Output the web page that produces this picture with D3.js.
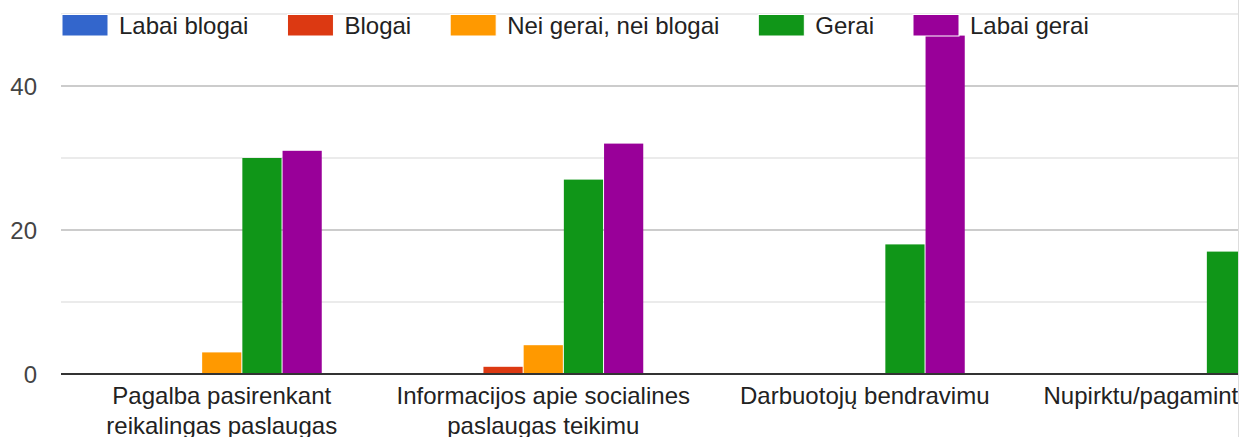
<!DOCTYPE html>
<html>
<head>
<meta charset="utf-8">
<script src="https://cdn.jsdelivr.net/npm/d3@7"></script>
<style>
  html, body { margin: 0; padding: 0; background: #ffffff; overflow: hidden; }
  svg { display: block; font-family: Arial, "Liberation Sans", sans-serif; }
</style>
</head>
<body>
<svg id="chart" width="1239" height="437"></svg>
<script>
// ---- data ----
const categories = [
  "Pagalba pasirenkant reikalingas paslaugas",
  "Informacijos apie socialines paslaugas teikimu",
  "Darbuotojų bendravimu",
  "Nupirktu/pagamintu maisto"
];
const seriesNames = ["Labai blogai", "Blogai", "Nei gerai, nei blogai", "Gerai", "Labai gerai"];
const seriesColors = ["#3366cc", "#dc3912", "#ff9900", "#109618", "#990099"];
const labaiBlogai = [0, 0, 0, 0];
const blogai = [0, 1, 0, 0];
const neiGeraiNeiBlogai = [3, 4, 0, 0];
const gerai = [30, 27, 18, 17];
const labaiGerai = [31, 32, 47, null];
const gridTicks = [0, 10, 20, 30, 40, 50];
const labelTicks = [0, 20, 40];

const seriesValues = [labaiBlogai, blogai, neiGeraiNeiBlogai, gerai, labaiGerai];

// ---- layout ----
const W = 1239, H = 437;
const plotLeft = 61, plotRight = 1347, plotTop = 14, plotBottom = 374;
const svg = d3.select("#chart");

const x0 = d3.scaleBand().domain(categories).range([plotLeft, plotRight]).padding(0);
const groupW = 200;
const x1 = d3.scaleBand().domain(seriesNames).range([0, groupW]).paddingInner(0.025).paddingOuter(0);
const y = d3.scaleLinear().domain([0, 50]).range([plotBottom, plotTop]);

// gridlines
svg.append("g").selectAll("line").data(gridTicks.filter(d => d > 0)).join("line")
  .attr("x1", plotLeft).attr("x2", 1238)
  .attr("y1", d => y(d)).attr("y2", d => y(d))
  .attr("stroke", d => labelTicks.includes(d) ? "#cccccc" : "#ebebeb")
  .attr("stroke-width", 2);

// bars
const barData = [];
categories.forEach((c, ci) => {
  seriesNames.forEach((s, si) => {
    const v = seriesValues[si][ci];
    if (v != null && v > 0) barData.push({ c, s, v, color: seriesColors[si] });
  });
});
svg.append("g").selectAll("rect").data(barData).join("rect")
  .attr("x", d => x0(d.c) + x0.bandwidth() / 2 - groupW / 2 + x1(d.s))
  .attr("width", x1.bandwidth())
  .attr("y", d => y(d.v))
  .attr("height", d => y(0) - y(d.v))
  .attr("fill", d => d.color);

// baseline
svg.append("line")
  .attr("x1", plotLeft).attr("x2", 1238)
  .attr("y1", y(0)).attr("y2", y(0))
  .attr("stroke", "#333333").attr("stroke-width", 2);

// y axis labels
svg.append("g").selectAll("text").data(labelTicks).join("text")
  .attr("x", 37).attr("y", d => y(d)).attr("dy", "0.36em")
  .attr("text-anchor", "end")
  .attr("font-size", 24).attr("fill", "#444444")
  .text(d => d);

// category labels (word-wrapped to the band width)
const labelG = svg.append("g");
categories.forEach(c => {
  const cx = x0(c) + x0.bandwidth() / 2;
  const t = labelG.append("text")
    .attr("x", cx).attr("y", 404)
    .attr("text-anchor", "middle").attr("font-size", 24).attr("fill", "#222222");
  const words = c.split(" ");
  let line = [], lineNo = 0;
  let ts = t.append("tspan").attr("x", cx).attr("y", 404);
  words.forEach(w => {
    line.push(w);
    ts.text(line.join(" "));
    if (ts.node().getComputedTextLength() > x0.bandwidth() - 10 && line.length > 1) {
      line.pop();
      ts.text(line.join(" "));
      line = [w];
      lineNo++;
      ts = t.append("tspan").attr("x", cx).attr("y", 404 + lineNo * 30).text(w);
    }
  });
});

// legend
const legend = svg.append("g");
let lx = 62;
seriesNames.forEach((s, i) => {
  legend.append("rect")
    .attr("x", lx).attr("y", 14.5).attr("width", 46).attr("height", 21.5)
    .attr("fill", seriesColors[i]).attr("stroke", "#ffffff").attr("stroke-width", 1);
  const t = legend.append("text")
    .attr("x", lx + 57).attr("y", 34)
    .attr("font-size", 24).attr("fill", "#222222").text(s);
  lx = lx + 57 + t.node().getComputedTextLength() + 39;
});

// right border of the (cropped) frame
svg.append("line")
  .attr("x1", 1238.5).attr("x2", 1238.5).attr("y1", 0).attr("y2", H)
  .attr("stroke", "#dddddd").attr("stroke-width", 1);
</script>
</body>
</html>
